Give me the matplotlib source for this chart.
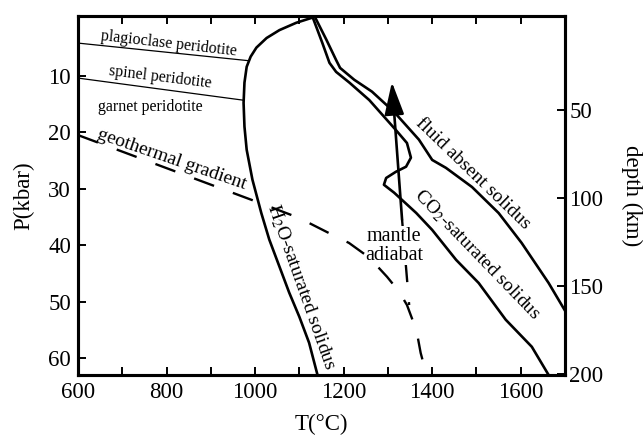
import numpy as np
import matplotlib
matplotlib.use("Agg")
import matplotlib.pyplot as plt

plt.rcParams['font.family'] = ['Liberation Serif', 'DejaVu Serif']
plt.rcParams['mathtext.fontset'] = 'stix'

# H2O-saturated solidus (T in C, P in kbar)
h2o_T = [1129, 1093, 1055, 1026, 1003, 990, 981, 976, 974, 976, 981, 994,
         1014, 1032, 1055, 1077, 1100, 1122, 1141]
h2o_P = [-0.3, 0.6, 1.9, 3.3, 5.0, 6.6, 8.4, 11.2, 14.8, 19.0, 23.1, 28.4,
         34.3, 39.0, 43.8, 48.4, 52.7, 57.3, 63.0]

# fluid absent solidus
dry_T = [1134, 1161, 1183, 1192, 1224, 1264, 1314, 1370, 1400, 1431, 1490,
         1550, 1602, 1663, 1700]
dry_P = [-0.6, 3.6, 7.2, 8.6, 10.7, 12.8, 16.4, 21.3, 24.9, 26.3, 29.7,
         34.3, 39.6, 46.7, 51.6]

# CO2-saturated solidus
co2_T = [1129, 1152, 1168, 1183, 1213, 1258, 1318, 1343, 1352, 1341, 1318,
         1296, 1291, 1314, 1364, 1400, 1454, 1505, 1566, 1625, 1663]
co2_P = [-0.6, 4.2, 7.7, 9.3, 11.2, 14.3, 19.6, 21.9, 24.5, 26.1, 27.0,
         28.1, 29.3, 30.7, 34.3, 37.3, 42.6, 46.7, 53.2, 58.0, 63.0]

# geothermal gradient
geo_T = [600, 1010, 1100, 1183, 1212, 1258, 1298, 1325, 1343, 1354, 1365,
         1374, 1386]
geo_P = [20.5, 32.5, 35.2, 38.5, 39.6, 42.2, 45.6, 48.2, 50.6, 52.9, 55.3,
         59.1, 62.6]

# mantle adiabat (solid part + dashed continuation)
adi_T = [1332, 1309]
adi_P = [35.5, 11.1]
adi_dash_T = [1332, 1348]
adi_dash_P = [35.5, 50.6]

# peridotite facies boundaries
plag_T = [600, 983]
plag_P = [4.2, 7.3]
spin_T = [600, 972]
spin_P = [10.4, 14.3]

fig = plt.figure(figsize=(6.43, 4.37), dpi=100)
ax = fig.add_axes([0.1213, 0.1419, 0.7574, 0.8215])

ax.plot(h2o_T, h2o_P, 'k-', lw=1.9)
ax.plot(dry_T, dry_P, 'k-', lw=1.9)
ax.plot(co2_T, co2_P, 'k-', lw=1.9)
ax.plot(geo_T, geo_P, 'k-', lw=1.7, dashes=(9, 8.5))
ax.plot(adi_dash_T, adi_dash_P, 'k-', lw=1.7, dashes=(9, 8.5), zorder=1)
ax.plot(plag_T, plag_P, 'k-', lw=0.9)
ax.plot(spin_T, spin_P, 'k-', lw=0.9)

ax.annotate('', xy=(adi_T[1], adi_P[1]), xytext=(adi_T[0], adi_P[0]),
            arrowprops=dict(arrowstyle='-|>,head_length=1.0,head_width=0.3',
                            lw=1.9, color='k', mutation_scale=20,
                            shrinkA=0, shrinkB=0))

# labels
ax.text(805, 4.3, 'plagioclase peridotite', fontsize=11.5, rotation=-6.5,
        ha='center', va='center')
ax.text(785, 10.2, 'spinel peridotite', fontsize=11.5, rotation=-7,
        ha='center', va='center')
ax.text(764, 15.5, 'garnet peridotite', fontsize=11.5, ha='center', va='center')
ax.text(812, 24.9, 'geothermal gradient', fontsize=14, rotation=-19,
        ha='center', va='center')
ax.text(1493, 27.3, 'fluid absent solidus', fontsize=14, rotation=-44,
        ha='center', va='center')
ax.text(1501, 41.7, 'CO$_2$-saturated solidus', fontsize=14, rotation=-46,
        ha='center', va='center')
ax.text(1105, 47.4, 'H$_2$O-saturated solidus', fontsize=14, rotation=-70.5,
        ha='center', va='center')
ax.text(1314, 40.1, 'mantle\nadiabat', fontsize=14.5, ha='center', va='center',
        linespacing=1.0, bbox=dict(fc='white', ec='none', pad=0.5), zorder=3)

ax.set_xlim(600, 1700)
ax.set_ylim(63, -0.6)
ax.set_xticks(np.arange(600, 1601, 200))
ax.set_xticks(np.arange(700, 1701, 200), minor=True)
ax.set_yticks([10, 20, 30, 40, 50, 60])
ax.tick_params(which='both', direction='in', length=6, width=1.4,
               labelsize=16.5, top=True, right=False, pad=5)
ax.set_xlabel('T(°C)', fontsize=16.5, labelpad=8)
ax.set_ylabel('P(kbar)', fontsize=16.5, labelpad=10)

ax2 = ax.twinx()
ax2.set_ylim(200.6, -3.4)
ax2.set_yticks([50, 100, 150, 200])
ax2.tick_params(direction='in', length=6, width=1.4, labelsize=16.5, pad=3)
ax2.set_ylabel('depth (km)', fontsize=16.5, rotation=270, labelpad=28)

for a in (ax, ax2):
    for s in a.spines.values():
        s.set_linewidth(2.2)

fig.savefig('out.png', dpi=100)
